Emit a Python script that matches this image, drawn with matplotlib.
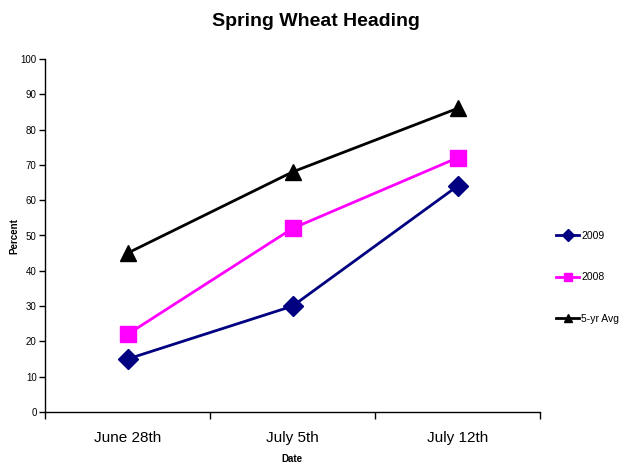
import matplotlib
matplotlib.use("Agg")
import matplotlib.pyplot as plt
from matplotlib.ticker import FixedLocator, NullFormatter
from matplotlib.lines import Line2D

plt.rcParams['font.family'] = ['Liberation Sans', 'DejaVu Sans']

dates = ["June 28th", "July 5th", "July 12th"]
y2009 = [15, 30, 64]
y2008 = [22, 52, 72]
avg5 = [45, 68, 86]
yticks = list(range(0, 101, 10))

fig = plt.figure(figsize=(6.25, 4.65), dpi=100)
ax = fig.add_axes([45/625, 53/465, 495/625, 353/465])

x = list(range(len(dates)))
l1, = ax.plot(x, y2009, color='#000080', lw=2, marker='D', ms=10, label='2009')
l2, = ax.plot(x, y2008, color='#FF00FF', lw=2, marker='s', ms=11, label='2008')
l3, = ax.plot(x, avg5, color='black', lw=2, marker='^', ms=12, label='5-yr Avg')

ax.set_xlim(-0.5, len(dates) - 0.5)
ax.set_ylim(0, 100)
ax.set_yticks(yticks)
ax.tick_params(axis='y', labelsize=7, length=4, width=1, direction='out', pad=2)
ax.xaxis.set_major_locator(FixedLocator([i - 0.5 for i in range(len(dates) + 1)]))
ax.xaxis.set_major_formatter(NullFormatter())
ax.xaxis.set_minor_locator(FixedLocator(x))
ax.set_xticklabels(dates, minor=True)
ax.tick_params(axis='x', which='major', length=5, width=1, direction='out')
ax.tick_params(axis='x', which='minor', length=0, labelsize=11, pad=14)
for s in ['top', 'right']:
    ax.spines[s].set_visible(False)
ax.spines['left'].set_linewidth(1)
ax.spines['bottom'].set_linewidth(1)

fig.text(14/625, 1 - 236/465, 'Percent', rotation=90, fontsize=7, fontweight='bold',
         ha='center', va='center')
fig.text(292/625, 1 - 459/465, 'Date', fontsize=7, fontweight='bold', ha='center', va='center')
fig.text(316/625, 1 - 22/465, 'Spring Wheat Heading', fontsize=14, fontweight='bold',
         ha='center', va='center')

handles = [Line2D([], [], color=h.get_color(), lw=2, marker=h.get_marker(), ms=6) for h in (l1, l2, l3)]
fig.legend(handles, ['2009', '2008', '5-yr Avg'], loc='upper left', bbox_to_anchor=(554/625, 1 - 229/465),
           frameon=False, fontsize=7.5, labelspacing=3.0, handlelength=2.2, handletextpad=0.2,
           borderaxespad=0, borderpad=0.2)

fig.savefig('out.png', dpi=100)
